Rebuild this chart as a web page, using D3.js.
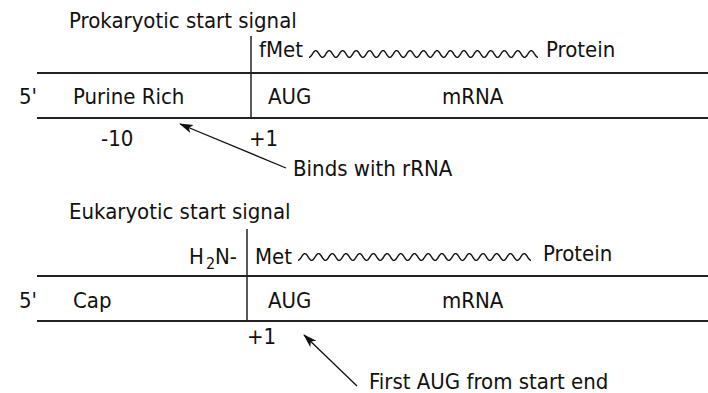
<!DOCTYPE html>
<html>
<head>
<meta charset="utf-8">
<script src="https://cdn.jsdelivr.net/npm/d3@7"></script>
<style>
  html, body { margin: 0; padding: 0; background: #fff; }
  svg { display: block; }
  text { font-family: "DejaVu Sans Condensed", "Liberation Sans", sans-serif; fill: #111; }
</style>
</head>
<body>
<svg id="chart" width="708" height="393"></svg>
<script>
// ---- data ----
const panelTitles = ["Prokaryotic start signal", "Eukaryotic start signal"];
const endLabels = ["5'", "5'"];
const leaderLabels = ["Purine Rich", "Cap"];
const startCodons = ["AUG", "AUG"];
const strandLabels = ["mRNA", "mRNA"];
const aminoAcids = ["fMet", "Met"];
const aminoPrefix = ["", "H2N-"];
const productLabels = ["Protein", "Protein"];
const waveHumps = [17, 17];
const positionValues = [[-10, 1], [1]];
const positionLabels = [["-10", "+1"], ["+1"]];
const calloutLabels = ["Binds with rRNA", "First AUG from start end"];

// ---- layout ----
const W = 708, H = 393;
const svg = d3.select("#chart");
svg.append("rect").attr("width", W).attr("height", H).attr("fill", "#fff");

const defs = svg.append("defs");
defs.append("marker")
  .attr("id", "arrow")
  .attr("viewBox", "0 0 14 10")
  .attr("refX", 13).attr("refY", 5)
  .attr("markerWidth", 14).attr("markerHeight", 10)
  .attr("markerUnits", "userSpaceOnUse")
  .attr("orient", "auto")
  .append("path").attr("d", "M14,5 L0,0.6 L3.5,5 L0,9.4 Z").attr("fill", "#111");

// nucleotide position scale (position along the mRNA)
const posScale = d3.scaleLinear().domain([-10, 1]).range([101, 249]);

const FS = 22;
const panels = [
  { vline: 251, vTop: 36, top: 73, bot: 118, aaY: 57, protY: 57, rowY: 104, posY: 146, titleY: 28,
    waveX0: 309, waveX1: 538, waveY: 54, protX: 546, aaX: 259,
    arrow: { x1: 286, y1: 168, x2: 180, y2: 124 }, callX: 293, callY: 176, posShift: [0, 0] },
  { vline: 247, vTop: 229, top: 276, bot: 321, aaY: 264, protY: 261, rowY: 308, posY: 344, titleY: 219,
    waveX0: 298, waveX1: 531, waveY: 257, protX: 543, aaX: 255,
    arrow: { x1: 357, y1: 386, x2: 304, y2: 335 }, callX: 369, callY: 389, posShift: [-2] }
];

panels.forEach((p, i) => {
  const g = svg.append("g");
  g.append("text").attr("x", 69).attr("y", p.titleY).attr("font-size", FS).text(panelTitles[i]);

  // mRNA strand borders
  [p.top, p.bot].forEach(y => {
    g.append("line").attr("x1", 37).attr("x2", W).attr("y1", y).attr("y2", y)
      .attr("stroke", "#222").attr("stroke-width", 1.8);
  });
  // start boundary
  g.append("line").attr("x1", p.vline).attr("x2", p.vline).attr("y1", p.vTop).attr("y2", p.bot)
    .attr("stroke", "#222").attr("stroke-width", 1.5);

  // row labels
  g.append("text").attr("x", 19).attr("y", p.rowY).attr("font-size", FS).text(endLabels[i]);
  g.append("text").attr("x", 73).attr("y", p.rowY).attr("font-size", FS).text(leaderLabels[i]);
  g.append("text").attr("x", 268).attr("y", p.rowY).attr("font-size", FS).text(startCodons[i]);
  g.append("text").attr("x", 442).attr("y", p.rowY).attr("font-size", FS).text(strandLabels[i]);

  // amino acid + prefix
  if (aminoPrefix[i]) {
    const t = g.append("text").attr("x", 237).attr("y", p.aaY).attr("font-size", FS)
      .attr("text-anchor", "end");
    t.append("tspan").text("H");
    t.append("tspan").attr("dy", 5).attr("font-size", 16).attr("dx", 2).text("2");
    t.append("tspan").attr("dy", -5).text("N-");
  }
  g.append("text").attr("x", p.aaX).attr("y", p.aaY).attr("font-size", FS).text(aminoAcids[i]);

  // wavy polypeptide chain
  const period = (p.waveX1 - p.waveX0) / waveHumps[i];
  const pts = d3.range(p.waveX0, p.waveX1 + 0.01, 0.5)
    .map(x => [x, p.waveY + 3.4 * Math.cos(2 * Math.PI * (x - p.waveX0) / period)]);
  g.append("path").attr("d", d3.line().curve(d3.curveBasis)(pts)).attr("fill", "none")
    .attr("stroke", "#111").attr("stroke-width", 1.4);
  g.append("text").attr("x", p.protX).attr("y", p.protY).attr("font-size", FS).text(productLabels[i]);

  // position labels
  positionValues[i].forEach((v, k) => {
    g.append("text").attr("x", posScale(v) + (p.posShift[k] || 0)).attr("y", p.posY)
      .attr("font-size", FS).text(positionLabels[i][k]);
  });

  // callout arrow
  g.append("line").attr("x1", p.arrow.x1).attr("y1", p.arrow.y1)
    .attr("x2", p.arrow.x2).attr("y2", p.arrow.y2)
    .attr("stroke", "#111").attr("stroke-width", 1.3)
    .attr("marker-end", "url(#arrow)");
  g.append("text").attr("x", p.callX).attr("y", p.callY).attr("font-size", FS).text(calloutLabels[i]);
});
</script>
</body>
</html>
